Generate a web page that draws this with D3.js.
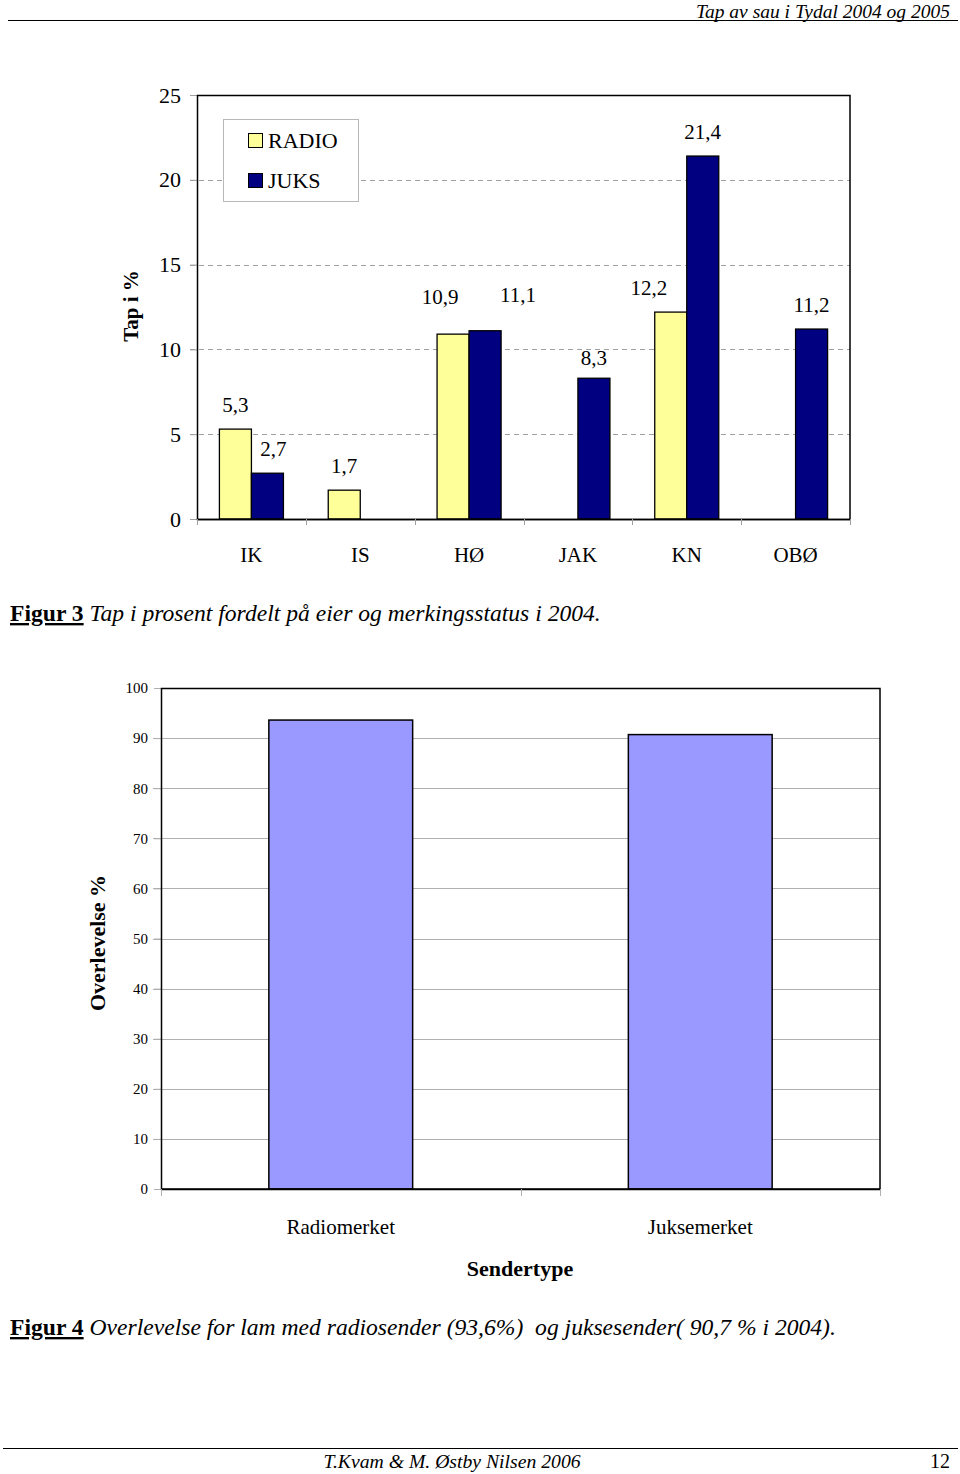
<!DOCTYPE html>
<html lang="en">
<head>
<meta charset="UTF-8">
<title>Tap av sau i Tydal</title>
<style>
  body { margin: 0; background: #fff; }
  svg text { font-family: "Liberation Serif", "Times New Roman", serif; white-space: pre; }
</style>
</head>
<body>
<script src="https://cdn.jsdelivr.net/npm/d3@7"></script>
<div>
  <svg id="page" width="960" height="1474"></svg>
</div>
<script>
  // figure 3 data
  var owners = ["IK", "IS", "HØ", "JAK", "KN", "OBØ"];
  var seriesNames = ["RADIO", "JUKS"];
  var radioLoss = [5.3, 1.7, 10.9, null, 12.2, null];
  var juksLoss = [2.7, null, 11.1, 8.3, 21.4, 11.2];
  var lossTicks = [0, 5, 10, 15, 20, 25];

  // figure 4 data
  var senderTypes = ["Radiomerket", "Juksemerket"];
  var survival = [93.6, 90.7];
  var survivalTicks = [0, 10, 20, 30, 40, 50, 60, 70, 80, 90, 100];

  var svg = d3.select("#page");

  // page header + footer
  svg.append("text").attr("x", 950).attr("y", 17.5).attr("text-anchor", "end")
    .attr("font-size", 19.5).attr("font-style", "italic").text("Tap av sau i Tydal 2004 og 2005");
  svg.append("line").attr("x1", 8).attr("x2", 958).attr("y1", 20.5).attr("y2", 20.5)
    .attr("stroke", "#000").attr("stroke-width", 1.2);
  svg.append("line").attr("x1", 3).attr("x2", 958).attr("y1", 1448.5).attr("y2", 1448.5)
    .attr("stroke", "#000").attr("stroke-width", 1.2);
  svg.append("text").attr("x", 452).attr("y", 1468).attr("text-anchor", "middle")
    .attr("font-size", 19.7).attr("font-style", "italic").text("T.Kvam & M. Østby Nilsen 2006");
  svg.append("text").attr("x", 950).attr("y", 1468).attr("text-anchor", "end")
    .attr("font-size", 20).text("12");

  // ---------- figure 3 ----------
  var c1 = svg.append("g");
  var x0 = d3.scaleBand().domain(owners).range([197, 850]);
  var x1 = d3.scaleBand().domain(seriesNames).range([0, x0.bandwidth()]).paddingOuter(0.7);
  var y1 = d3.scaleLinear().domain([0, 25]).range([519, 95]);
  var colors1 = { RADIO: "#ffff99", JUKS: "#000080" };

  // gridlines (dashed)
  c1.selectAll(".grid").data(lossTicks.slice(1, -1)).enter().append("line")
    .attr("x1", 190).attr("x2", 850)
    .attr("y1", function(d) { return Math.round(y1(d)) + 0.5; })
    .attr("y2", function(d) { return Math.round(y1(d)) + 0.5; })
    .attr("stroke", "#a0a0a0").attr("stroke-dasharray", "5,4");

  var yAxis1 = c1.append("g").attr("transform", "translate(197,0)")
    .call(d3.axisLeft(y1).tickValues(lossTicks).tickSize(7).tickPadding(9));
  yAxis1.select(".domain").remove();
  yAxis1.selectAll("line").attr("stroke", "#a0a0a0");
  yAxis1.selectAll("text").attr("font-size", 22).attr("fill", "#000")
    .style("font-family", "'Liberation Serif', serif");

  var rows = owners.map(function(o, i) {
    return { owner: o, values: [
      { key: "RADIO", v: radioLoss[i] },
      { key: "JUKS", v: juksLoss[i] }
    ]};
  });

  var groups = c1.selectAll(".grp").data(rows).enter().append("g")
    .attr("transform", function(d) { return "translate(" + x0(d.owner) + ",0)"; });

  groups.selectAll("rect").data(function(d) { return d.values.filter(function(e) { return e.v != null; }); })
    .enter().append("rect")
    .attr("x", function(d) { return x1(d.key); })
    .attr("width", x1.bandwidth())
    .attr("y", function(d) { return y1(d.v); })
    .attr("height", function(d) { return y1(0) - y1(d.v); })
    .attr("fill", function(d) { return colors1[d.key]; })
    .attr("stroke", "#000").attr("stroke-width", 1.3);

  // Excel moved a few labels sideways so they would not collide
  var labelNudge = { "HØ|RADIO": [-13, -13], "HØ|JUKS": [33, -12], "KN|RADIO": [-22, 0], "IK|JUKS": [6, 0], "JAK|JUKS": [0, 4] };
  groups.each(function(row) {
    d3.select(this).selectAll(".lab")
      .data(row.values.filter(function(e) { return e.v != null; }))
      .enter().append("text")
      .attr("x", function(d) {
        var n = labelNudge[row.owner + "|" + d.key] || [0, 0];
        return x1(d.key) + x1.bandwidth() / 2 + n[0];
      })
      .attr("y", function(d) {
        var n = labelNudge[row.owner + "|" + d.key] || [0, 0];
        return y1(d.v) - 17 + n[1];
      })
      .attr("text-anchor", "middle").attr("font-size", 21)
      .text(function(d) { return String(d.v).replace(".", ","); });
  });

  // frame
  c1.append("rect").attr("x", 197.5).attr("y", 95.5).attr("width", 652.5).attr("height", 424)
    .attr("fill", "none").attr("stroke", "#000").attr("stroke-width", 1.5);

  var xAxis1 = c1.append("g").attr("transform", "translate(0,519)")
    .call(d3.axisBottom(x0).tickSize(0).tickPadding(28));
  xAxis1.select(".domain").attr("stroke", "#000").attr("stroke-width", 1.5);
  xAxis1.selectAll("text").attr("font-size", 21).attr("fill", "#000")
    .style("font-family", "'Liberation Serif', serif");
  c1.selectAll(".ctick").data(owners.concat([null])).enter().append("line")
    .attr("x1", function(d, i) { return Math.round(197 + i * x0.step()) + 0.5; })
    .attr("x2", function(d, i) { return Math.round(197 + i * x0.step()) + 0.5; })
    .attr("y1", 519).attr("y2", 525).attr("stroke", "#a0a0a0");

  // legend
  var leg = c1.append("g");
  leg.append("rect").attr("x", 223.5).attr("y", 119.5).attr("width", 135).attr("height", 82)
    .attr("fill", "#fff").attr("stroke", "#b8b8b8");
  seriesNames.forEach(function(s, i) {
    leg.append("rect").attr("x", 248.5).attr("y", 133.5 + i * 40).attr("width", 14).attr("height", 14)
      .attr("fill", colors1[s]).attr("stroke", "#000");
    leg.append("text").attr("x", 268).attr("y", 148 + i * 40).attr("font-size", 22).text(s);
  });

  c1.append("text").attr("transform", "translate(138,306) rotate(-90)")
    .attr("text-anchor", "middle").attr("font-size", 21).attr("font-weight", "bold").text("Tap i %");

  // caption 3
  var cap3 = svg.append("text").attr("x", 10).attr("y", 621).attr("font-size", 23.6);
  cap3.append("tspan").attr("font-weight", "bold").attr("text-decoration", "underline").text("Figur 3");
  cap3.append("tspan").attr("font-style", "italic").text(" Tap i prosent fordelt på eier og merkingsstatus i 2004.");

  // ---------- figure 4 ----------
  var c2 = svg.append("g");
  var x2 = d3.scaleBand().domain(senderTypes).range([161, 880]).paddingInner(0).paddingOuter(0);
  var y2 = d3.scaleLinear().domain([0, 100]).range([1189, 688]);

  c2.selectAll(".grid").data(survivalTicks.slice(1, -1)).enter().append("line")
    .attr("x1", 153).attr("x2", 880)
    .attr("y1", function(d) { return Math.round(y2(d)) + 0.5; })
    .attr("y2", function(d) { return Math.round(y2(d)) + 0.5; })
    .attr("stroke", "#b0b0b0");

  var yAxis2 = c2.append("g").attr("transform", "translate(161,0)")
    .call(d3.axisLeft(y2).tickValues(survivalTicks).tickSize(7).tickPadding(6));
  yAxis2.select(".domain").remove();
  yAxis2.selectAll("line").attr("stroke", "#b0b0b0");
  yAxis2.selectAll("text").attr("font-size", 15).attr("fill", "#000")
    .style("font-family", "'Liberation Serif', serif");

  var barW = x2.bandwidth() * 0.4;
  c2.selectAll(".bar").data(survival).enter().append("rect")
    .attr("x", function(d, i) { return x2(senderTypes[i]) + (x2.bandwidth() - barW) / 2; })
    .attr("width", barW)
    .attr("y", function(d) { return y2(d); })
    .attr("height", function(d) { return y2(0) - y2(d); })
    .attr("fill", "#9999ff").attr("stroke", "#000").attr("stroke-width", 1.5);

  c2.append("rect").attr("x", 161.5).attr("y", 688.5).attr("width", 718.5).attr("height", 500.5)
    .attr("fill", "none").attr("stroke", "#000").attr("stroke-width", 1.5);

  var xAxis2 = c2.append("g").attr("transform", "translate(0,1189)")
    .call(d3.axisBottom(x2).tickSize(0).tickPadding(30));
  xAxis2.select(".domain").attr("stroke", "#000").attr("stroke-width", 1.5);
  xAxis2.selectAll("text").attr("font-size", 21).attr("fill", "#000")
    .style("font-family", "'Liberation Serif', serif");
  c2.selectAll(".ctick").data(senderTypes.concat([null])).enter().append("line")
    .attr("x1", function(d, i) { return Math.round(161 + i * x2.step()) + 0.5; })
    .attr("x2", function(d, i) { return Math.round(161 + i * x2.step()) + 0.5; })
    .attr("y1", 1189).attr("y2", 1196).attr("stroke", "#b0b0b0");

  c2.append("text").attr("x", 520).attr("y", 1276).attr("text-anchor", "middle")
    .attr("font-size", 22).attr("font-weight", "bold").text("Sendertype");
  c2.append("text").attr("transform", "translate(105,943) rotate(-90)")
    .attr("text-anchor", "middle").attr("font-size", 22).attr("font-weight", "bold").text("Overlevelse %");

  var cap4 = svg.append("text").attr("x", 10).attr("y", 1335).attr("font-size", 23.6);
  cap4.append("tspan").attr("font-weight", "bold").attr("text-decoration", "underline").text("Figur 4");
  cap4.append("tspan").attr("font-style", "italic").text(" Overlevelse for lam med radiosender (93,6%)  og juksesender( 90,7 % i 2004).");
</script>
</body>
</html>
